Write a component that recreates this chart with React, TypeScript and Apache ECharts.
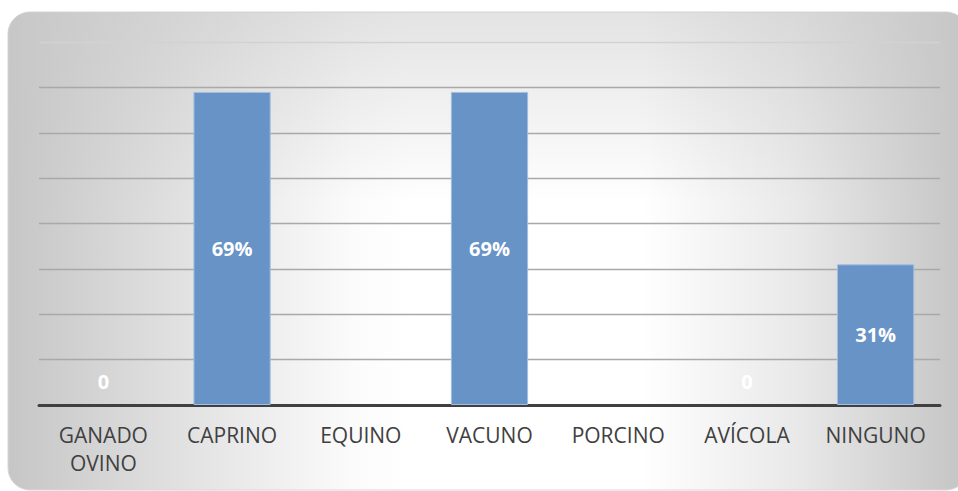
import React, { useEffect, useRef } from "react";
import * as echarts from "echarts";

const categories = ["GANADO\nOVINO", "CAPRINO", "EQUINO", "VACUNO", "PORCINO", "AVÍCOLA", "NINGUNO"];
const values: (number | null)[] = [0, 69, null, 69, null, 0, 31];
const yMax = 80;
const yInterval = 10;

export default function App() {
  const ref = useRef<HTMLDivElement>(null);
  useEffect(() => {
    if (!ref.current) return;
    const chart = echarts.init(ref.current, null, { renderer: "svg" });
    const data = values.map((v) =>
      v === 0
        ? {
            value: v,
            itemStyle: { color: "rgba(0,0,0,0)", borderWidth: 0 },
            label: { position: "top", distance: 14, color: "#ffffff" },
          }
        : { value: v }
    );
    const bgShape = { x: 8, y: 12, width: 960, height: 478, r: 22 };
    const gridColors = [
      "#a9a9a9", "#a9a9a9", "#a9a9a9", "#a9a9a9", "#a9a9a9",
      "#a9a9a9", "#a9a9a9", "#a9a9a9", "#d2d2d2",
    ];
    chart.setOption({
      animation: false,
      graphic: [
        {
          type: "rect",
          z: -10,
          silent: true,
          shape: bgShape,
          style: {
            fill: new echarts.graphic.LinearGradient(0, 0, 1, 0, [
              { offset: 0, color: "#c6c6c6" },
              { offset: 0.2, color: "#e4e4e4" },
              { offset: 0.36, color: "#fbfbfb" },
              { offset: 0.42, color: "#ffffff" },
              { offset: 0.66, color: "#ffffff" },
              { offset: 0.82, color: "#e9e9e9" },
              { offset: 1, color: "#c4c4c4" },
            ]),
            stroke: "#d6d6d6",
            lineWidth: 1,
          },
        },
        {
          type: "rect",
          z: -9,
          silent: true,
          shape: bgShape,
          style: {
            fill: new echarts.graphic.LinearGradient(0, 0, 0, 1, [
              { offset: 0, color: "rgba(200,200,200,0.5)" },
              { offset: 0.4, color: "rgba(200,200,200,0)" },
              { offset: 1, color: "rgba(200,200,200,0)" },
            ]),
          },
        },
      ],
      grid: { left: 39, right: 18, top: 42, bottom: 86, containLabel: false },
      xAxis: {
        type: "category",
        data: categories,
        axisLine: { show: true, lineStyle: { color: "#404040", width: 3 } },
        axisTick: { show: false },
        axisLabel: {
          color: "#404040",
          fontFamily: "Open Sans",
          fontSize: 21,
          lineHeight: 28,
          margin: 16,
          interval: 0,
        },
      },
      yAxis: {
        type: "value",
        min: 0,
        max: yMax,
        interval: yInterval,
        axisLine: { show: false },
        axisTick: { show: false },
        axisLabel: { show: false },
        splitLine: { lineStyle: { color: gridColors, width: 1.3 } },
      },
      series: [
        {
          type: "bar",
          data,
          barCategoryGap: "40%",
          itemStyle: { color: "#6893c7", borderColor: "#a3bde0", borderWidth: 1 },
          label: {
            show: true,
            position: "inside",
            color: "#ffffff",
            fontFamily: "Open Sans",
            fontWeight: "bold",
            fontSize: 20,
            formatter: (p: any) => (p.value === 0 ? "0" : p.value + "%"),
          },
        },
      ],
    });
    return () => chart.dispose();
  }, []);
  return (
    <div
      ref={ref}
      style={{ position: "absolute", left: 0, top: 0, width: 958, height: 491 }}
    />
  );
}
